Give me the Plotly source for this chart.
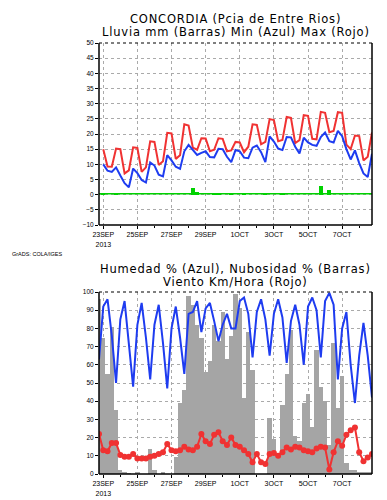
import plotly.graph_objects as go
import pandas as pd

# ---------------- data ----------------
start = "2013-09-22 18:00"
n_steps = 65
times = pd.date_range(start, periods=n_steps, freq="6h")

# top panel (starts at 23SEP 00Z)
temp_max = [15.0, 9.3, 9.2, 15.2, 15.0, 7.0, 8.0, 15.6, 15.4, 7.5, 9.0, 17.6, 17.4, 9.8, 11.0,
            20.4, 20.2, 11.8, 13.0, 23.2, 22.8, 15.5, 14.8, 18.6, 18.5, 14.3, 14.8, 18.6, 18.4,
            14.3, 14.6, 17.4, 17.2, 14.0, 15.8, 23.2, 23.0, 16.6, 17.4, 24.9, 24.6, 17.6, 18.0,
            25.6, 25.3, 17.0, 18.0, 26.2, 26.0, 18.4, 18.2, 27.3, 27.0, 20.6, 21.0, 27.2, 27.0,
            16.5, 15.0, 19.5, 19.3, 11.3, 12.5, 20.5]
temp_min = [10.0, 7.9, 7.5, 9.0, 6.3, 3.8, 2.4, 8.6, 7.1, 4.8, 4.0, 10.6, 9.6, 6.6, 6.0,
            13.0, 11.3, 9.2, 8.5, 14.3, 16.4, 14.6, 13.1, 13.8, 14.3, 12.4, 12.3, 15.1, 15.0,
            12.5, 10.7, 14.7, 14.3, 12.2, 12.0, 15.5, 16.2, 14.0, 10.7, 19.2, 17.5, 15.2, 14.7,
            19.0, 18.9, 15.8, 13.6, 18.8, 17.2, 16.4, 16.1, 19.0, 20.5, 17.6, 17.2, 21.0, 19.3,
            15.0, 11.6, 14.6, 10.4, 7.0, 5.8, 13.5]
rain = [0.3, 0.0, 0.0, 0.3, 0.0, 0.0, 0.0, 0.0, 0.0, 0.0, 0.0, 0.0, 0.0, 0.0, 0.0,
        0.0, 0.0, 0.0, 0.0, 0.0, 0.0, 2.2, 0.8, 0.0, 0.0, 0.0, 0.4, 0.3, 0.0,
        0.0, 0.4, 0.0, 0.0, 0.2, 0.0, 0.0, 0.0, 0.0, 0.2, 0.0, 0.0, 0.0, 0.2,
        0.0, 0.0, 0.0, 0.0, 0.0, 0.0, 0.0, 0.0, 2.8, 0.0, 1.5, 0.0, 0.0, 0.0,
        0.0, 0.0, 0.0, 0.0, 0.0, 0.0, 0.0]

# bottom panel (starts at 22SEP 18Z)
humidity = [63, 92, 96, 76, 50, 85, 95, 73, 48, 82, 94, 75, 52, 82, 93, 72, 47, 80, 92, 75,
            55, 88, 89, 95, 78, 91, 94, 84, 73, 82, 88, 80, 80, 95, 97, 88, 64, 89, 96, 85,
            65, 88, 96, 86, 61, 84, 93, 82, 60, 92, 97, 90, 64, 95, 99.5, 93, 52, 80, 89, 60,
            39, 65, 83, 65, 42]
cloud = [96, 75, 55, 81, 35, 2, 1, 0.5, 0, 1, 0, 0, 14, 2, 0, 1, 0, 0, 9.5, 39,
         46, 98, 93, 82, 75, 56, 62, 82, 73, 89, 63, 76, 99, 91, 42, 78, 57, 0, 0, 0,
         31, 19, 9, 38, 55, 79, 21, 18, 39, 44, 26, 68, 48, 40, 16, 72, 36, 54, 6, 2,
         2, 1, 1, 1, 1]
wind = [22, 13, 12.5, 17, 17, 10.5, 9.5, 9.5, 11, 8.5, 8.5, 8.5, 9.5, 10, 11, 12, 16.5, 13,
        12.5, 13, 15, 13.5, 13, 15, 22, 18, 16.5, 21.5, 23, 18, 16, 20, 16, 15, 13, 11,
        6.5, 11, 6.5, 5.5, 11, 11.5, 10, 12, 14.5, 13.5, 15, 14.5, 13, 12.5, 12, 14, 15,
        14.5, 2.5, 12, 18, 15.5, 21.5, 24, 25.5, 12, 7, 9, 11]

tick_dates = ["2013-09-23", "2013-09-25", "2013-09-27", "2013-09-29",
              "2013-10-01", "2013-10-03", "2013-10-05", "2013-10-07"]
tick_labels = ["23SEP<br>2013", "25SEP", "27SEP", "29SEP", "1OCT", "3OCT", "5OCT", "7OCT"]

# ---------------- styling ----------------
RED = "rgb(240,50,50)"
BLUE = "rgb(30,60,240)"
GREEN = "rgb(0,210,0)"
GRAY = "rgb(165,165,165)"
FONT = "Liberation Sans"
TFONT = "DejaVu Sans"
bar_w = 6 * 3600 * 1000

t_top = times[1:]

fig = go.Figure()
fig.add_trace(go.Bar(x=t_top, y=rain, width=bar_w, marker=dict(color=GREEN, line_width=0),
                     xaxis="x", yaxis="y"))
fig.add_trace(go.Scatter(x=t_top, y=temp_max, mode="lines", line=dict(color=RED, width=2),
                         xaxis="x", yaxis="y"))
fig.add_trace(go.Scatter(x=t_top, y=temp_min, mode="lines", line=dict(color=BLUE, width=2),
                         xaxis="x", yaxis="y"))

fig.add_trace(go.Bar(x=times, y=cloud, width=bar_w, marker=dict(color=GRAY, line_width=0),
                     xaxis="x2", yaxis="y2"))
fig.add_trace(go.Scatter(x=times, y=humidity, mode="lines", line=dict(color=BLUE, width=2),
                         xaxis="x2", yaxis="y2"))
fig.add_trace(go.Scatter(x=times, y=wind, mode="lines+markers", line=dict(color=RED, width=2),
                         marker=dict(color=RED, size=6), xaxis="x2", yaxis="y2"))

xr = [times[0], times[-1]]
xcommon = dict(type="date", range=xr, tickvals=tick_dates, ticktext=tick_labels,
               tickfont=dict(family=FONT, size=7, color="black"), ticks="outside", ticklen=3,
               tickcolor="black", showgrid=True, gridcolor="rgb(170,170,170)", griddash="dot",
               gridwidth=1, zeroline=False, showline=False,
               minor=dict(dtick=86400000, ticks="outside", ticklen=2, tickcolor="black",
                          showgrid=False))
ycommon = dict(tickfont=dict(family=FONT, size=6.5, color="black"), ticks="outside", ticklen=3,
               tickcolor="black", showgrid=True, gridcolor="rgb(170,170,170)", griddash="dot",
               gridwidth=1, zeroline=False, showline=False)

H_total = 500
top_plot = 35
bot_plot = 466
ph = bot_plot - top_plot


def yf(py):
    return (bot_plot - py) / ph


fig.update_layout(
    width=387, height=500,
    margin=dict(l=91, r=23, t=top_plot, b=H_total - bot_plot),
    paper_bgcolor="white", plot_bgcolor="white",
    showlegend=False, bargap=0, barmode="overlay",
    xaxis=dict(xcommon, anchor="y", domain=[0, 1]),
    yaxis=dict(ycommon, domain=[yf(217), 1.0], range=[-10, 50], dtick=5),
    xaxis2=dict(xcommon, anchor="y2", domain=[0, 1]),
    yaxis2=dict(ycommon, domain=[0, yf(284)], range=[0, 100], dtick=10),
)

shapes = []
# zero line for rain
shapes.append(dict(type="line", xref="x domain", yref="y", x0=0, x1=1, y0=0.3, y1=0.3,
                   line=dict(color=GREEN, width=1.5), layer="above"))
for xa, ya in (("x", "y"), ("x2", "y2")):
    xd, yd = xa + " domain", ya + " domain"
    for (x0, y0, x1, y1) in ((0, 0, 1, 0), (0, 0, 0, 1), (1, 0, 1, 1)):
        shapes.append(dict(type="line", xref=xd, yref=yd, x0=x0, y0=y0, x1=x1, y1=y1,
                           line=dict(color="black", width=1.5), layer="above"))
    shapes.append(dict(type="line", xref=xd, yref=yd, x0=0, y0=1, x1=1, y1=1,
                       line=dict(color="black", width=1.2, dash="dot"), layer="above"))
fig.update_layout(shapes=shapes)


def spaced(s):
    return '<span style="letter-spacing:0.8px">' + s + '</span>'


ann = []
title_font = dict(family=TFONT, size=11.5, color="black")
ann.append(dict(text=spaced("CONCORDIA (Pcia de Entre Rios)"), x=0.5, y=yf(10.5)))
ann.append(dict(text=spaced("Lluvia mm (Barras) Min (Azul) Max (Rojo)"), x=0.5, y=yf(24)))
ann.append(dict(text=spaced("Humedad % (Azul), Nubosidad % (Barras)"), x=0.5, y=yf(260.5)))
ann.append(dict(text=spaced("Viento Km/Hora (Rojo)"), x=0.5, y=yf(274)))
for a in ann:
    a.update(xref="paper", yref="paper", showarrow=False, xanchor="center", yanchor="middle",
             font=title_font)
ann.append(dict(text="GrADS: COLA/IGES", x=(2 - 91) / 273, y=yf(246), xref="paper",
                yref="paper", showarrow=False, xanchor="left", yanchor="middle",
                font=dict(family=FONT, size=5.5, color="black")))
fig.update_layout(annotations=ann)

fig.write_html("out.html")
